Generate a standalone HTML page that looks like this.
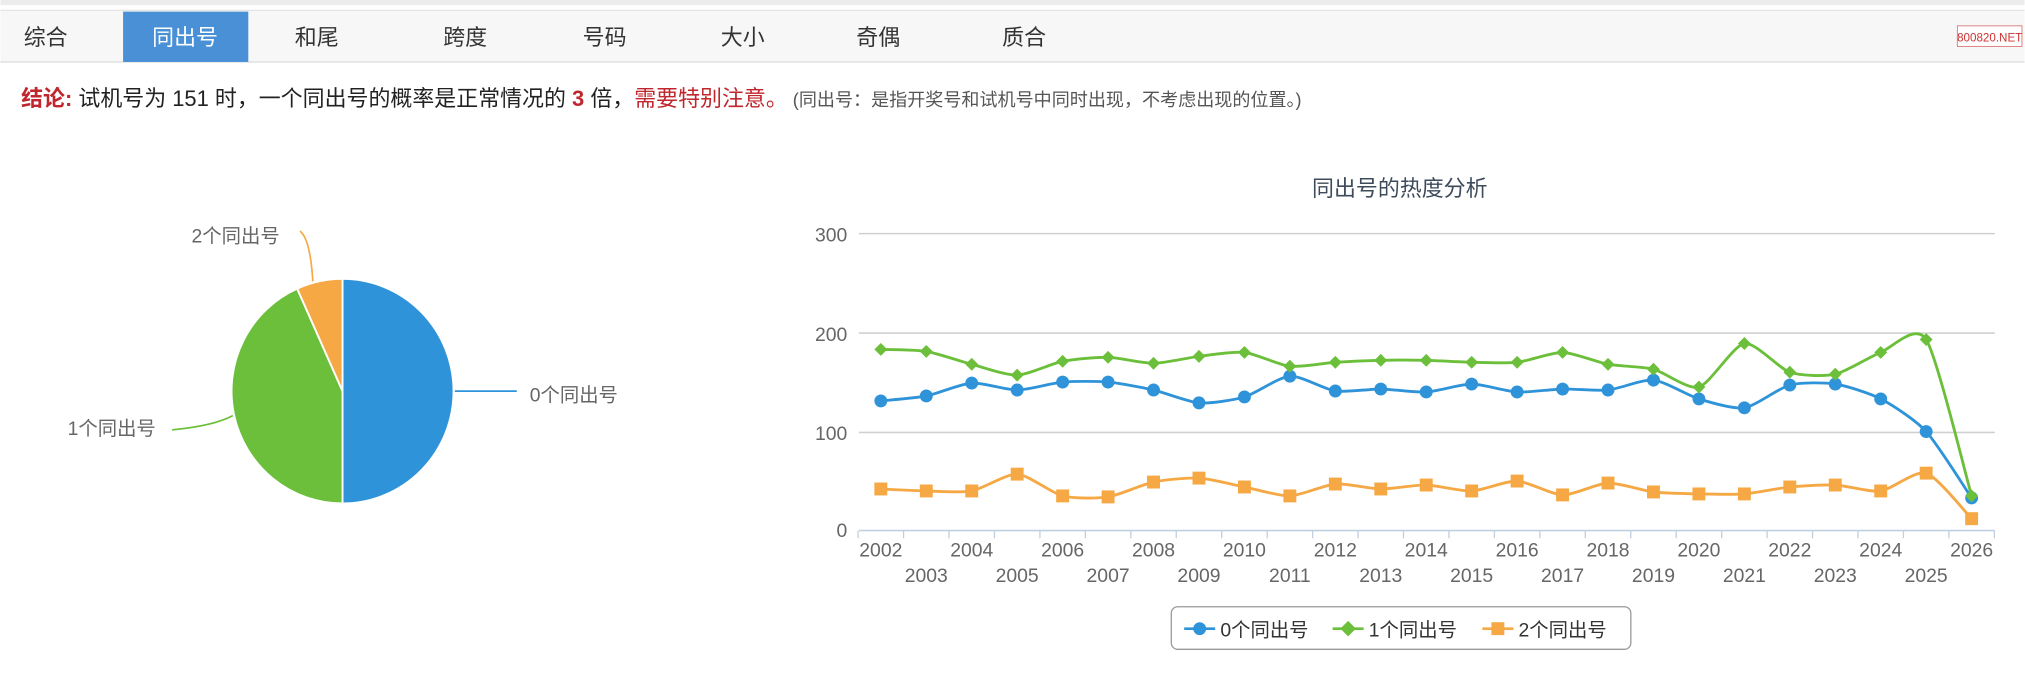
<!DOCTYPE html>
<html><head><meta charset="utf-8"><style>
html,body{margin:0;padding:0;background:#fff;width:2025px;height:679px;overflow:hidden}
svg{display:block}
text{font-family:"Liberation Sans","Noto Sans CJK SC",sans-serif}
</style></head><body>
<svg id="s" width="2025" height="679" viewBox="0 0 1568 526" xmlns="http://www.w3.org/2000/svg">
<rect x="0" y="0" width="1568" height="526" fill="#fff"/>
<rect x="0" y="0" width="1568" height="4" fill="#ececec"/>
<rect x="0" y="8" width="1568" height="40" fill="#f7f7f7"/>
<line x1="0" y1="8" x2="1568" y2="8" stroke="#e6e6e6"/>
<line x1="0" y1="48" x2="1568" y2="48" stroke="#dcdcdc"/>
<rect x="95" y="9" width="97" height="39" fill="#4a90d6"/>
<g font-size="17" fill="#333" text-anchor="middle">
<text x="35" y="35">综合</text>
<text x="143" y="35" fill="#fff">同出号</text>
<text x="245" y="35">和尾</text>
<text x="360" y="35">跨度</text>
<text x="468" y="35">号码</text>
<text x="575" y="35">大小</text>
<text x="680" y="35">奇偶</text>
<text x="793" y="35">质合</text>
</g>
<rect x="1516" y="20" width="50" height="16" fill="#fff" stroke="#d88" stroke-width="0.8"/>
<text x="1541" y="32" font-size="9" fill="#c33" text-anchor="middle">800820.NET</text>
<text x="16" y="82" font-size="17" fill="#222"><tspan fill="#c0262d" font-weight="bold">结论:</tspan> 试机号为 151 时，一个同出号的概率是正常情况的 <tspan fill="#c0262d" font-weight="bold">3</tspan> 倍，<tspan fill="#c0262d">需要特别注意。</tspan><tspan font-size="14" fill="#555"> (同出号：是指开奖号和试机号中同时出现，不考虑出现的位置。)</tspan></text>

<g id="pie"></g>
<g font-size="15" fill="#666">
<text x="410" y="311">0个同出号</text>
<text x="52" y="337">1个同出号</text>
<text x="148" y="188">2个同出号</text>
</g>
<line x1="352" y1="303" x2="400" y2="303" stroke="#2f93d9" stroke-width="1.3"/>
<path d="M133,333 Q165,330 180,322" stroke="#6cbf3a" fill="none" stroke-width="1.3"/>
<path d="M232,179 Q240,185 242,218" stroke="#f5a843" fill="none" stroke-width="1.3"/>

<text x="1084" y="152" font-size="17" fill="#3d4b5c" text-anchor="middle">同出号的热度分析</text>
<g stroke="#d0d0d0" stroke-width="1.2">
<line x1="665" y1="181" x2="1545" y2="181"/>
<line x1="665" y1="258" x2="1545" y2="258"/>
<line x1="665" y1="335" x2="1545" y2="335"/>
</g>
<line x1="665" y1="411" x2="1545" y2="411" stroke="#c0d0e0" stroke-width="1.2"/>
<g font-size="15" fill="#666" text-anchor="end">
<text x="656" y="187">300</text><text x="656" y="264">200</text><text x="656" y="341">100</text><text x="656" y="416">0</text>
</g>
<g id="lc"></g>
<rect x="907" y="470" width="356" height="33" rx="5" fill="#fff" stroke="#999" stroke-width="1"/>
<g font-size="15" fill="#333">
<line x1="917" y1="487" x2="941" y2="487" stroke="#2f93d9" stroke-width="2"/><circle cx="929" cy="487" r="5" fill="#2f93d9"/>
<text x="945" y="493">0个同出号</text>
<line x1="1032" y1="487" x2="1056" y2="487" stroke="#6cbf3a" stroke-width="2"/><path d="M1044,481 L1050,487 L1044,493 L1038,487Z" fill="#6cbf3a"/>
<text x="1060" y="493">1个同出号</text>
<line x1="1148" y1="487" x2="1172" y2="487" stroke="#f5a843" stroke-width="2"/><rect x="1155" y="482" width="10" height="10" fill="#f5a843"/>
<text x="1176" y="493">2个同出号</text>
</g>
</svg>
<script>
var NS="http://www.w3.org/2000/svg";
function el(p,t,a){var e=document.createElementNS(NS,t);for(var k in a)e.setAttribute(k,a[k]);p.appendChild(e);return e;}
var pie=document.getElementById('pie');var cx=265,cy=303,rx=86,ry=87;
function pt(f){var a=f*2*Math.PI;return [cx+rx*Math.sin(a),cy-ry*Math.cos(a)];}
var sl=[[0,0.5,'#2f93d9'],[0.5,0.933,'#6cbf3a'],[0.933,1,'#f5a843']];
sl.forEach(function(s){var a=pt(s[0]),b=pt(s[1]);var large=(s[1]-s[0])>0.5?1:0;
el(pie,'path',{d:'M'+cx+','+cy+' L'+a[0]+','+a[1]+' A'+rx+','+ry+' 0 '+large+' 1 '+b[0]+','+b[1]+' Z',fill:s[2],stroke:'#fff','stroke-width':1.5});});
var lc=document.getElementById('lc');
var x0=682,dx=(1527-682)/24;
function Y(v){return 411-v*0.7667;}
for(var i=0;i<=25;i++){var tx=x0-dx/2+i*dx;el(lc,'line',{x1:tx,y1:411,x2:tx,y2:417,stroke:'#c0d0e0'});}
for(var i=0;i<25;i++){var yr=2002+i;var t=el(lc,'text',{x:x0+i*dx,y:(i%2==0)?431:451,'font-size':15,fill:'#666','text-anchor':'middle'});t.textContent=yr;}
var D=[
[[131,136,149,142,150,150,142,129,135,156,141,143,140,148,140,143,142,152,133,124,147,148,133,100,33],'#2f93d9','c'],
[[183,181,168,157,171,175,169,176,180,166,170,172,172,170,170,180,168,163,145,189,160,158,180,193,35],'#6cbf3a','d'],
[[42,40,40,57,35,34,49,53,44,35,47,42,46,40,50,36,48,39,37,37,44,46,40,58,12],'#f5a843','s']];
D.forEach(function(s){var P=s[0].map(function(v,i){return [x0+i*dx,Y(v)];});
var d='M'+P[0][0]+','+P[0][1];
for(var i=0;i<P.length-1;i++){var p0=P[Math.max(0,i-1)],p1=P[i],p2=P[i+1],p3=P[Math.min(P.length-1,i+2)];var k=0.12;
d+=' C'+(p1[0]+(p2[0]-p0[0])*k)+','+(p1[1]+(p2[1]-p0[1])*k)+' '+(p2[0]-(p3[0]-p1[0])*k)+','+(p2[1]-(p3[1]-p1[1])*k)+' '+p2[0]+','+p2[1];}
el(lc,'path',{d:d,fill:'none',stroke:s[1],'stroke-width':2.2});
P.forEach(function(p){if(s[2]=='c')el(lc,'circle',{cx:p[0],cy:p[1],r:5,fill:s[1]});
else if(s[2]=='d')el(lc,'path',{d:'M'+p[0]+','+(p[1]-5)+' L'+(p[0]+5)+','+p[1]+' L'+p[0]+','+(p[1]+5)+' L'+(p[0]-5)+','+p[1]+'Z',fill:s[1]});
else el(lc,'rect',{x:p[0]-5,y:p[1]-5,width:10,height:10,fill:s[1]});});});
</script>
</body></html>
